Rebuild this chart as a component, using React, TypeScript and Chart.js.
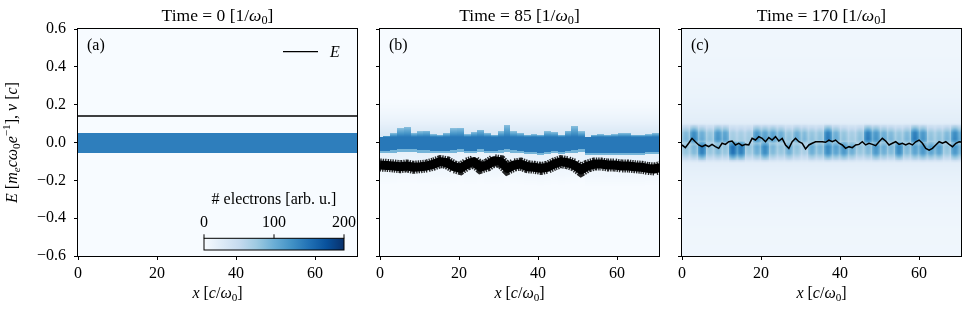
import React, { useEffect, useRef } from 'react';
import { Chart, registerables } from 'chart.js';
Chart.register(...registerables);

// ---------------- data ----------------
const X_MAX = 70.6;
const Y_MIN = -0.6;
const Y_MAX = 0.6;
const X_TICKS = [0, 20, 40, 60];
const Y_TICKS = [-0.6, -0.4, -0.2, 0, 0.2, 0.4, 0.6];
const TIMES = [0, 85, 170];
const PANEL_LABELS = ['(a)', '(b)', '(c)'];
const CBAR_TICKS = [0, 100, 200];
const CBAR_MAX = 200;

// panel (a): E field and electron band
const A_E_X = [0, 70.6];
const A_E_V = [0.14, 0.14];
const A_BAND = [-0.053, 0.05];
const A_LEVEL = 140;

// panel (b): sampled every B_STEP in x
const B_STEP = 1.696;
const B_E = [-0.119, -0.121, -0.124, -0.128, -0.124, -0.131, -0.128, -0.124, -0.114, -0.101, -0.107, -0.128, -0.137, -0.114, -0.101, -0.131, -0.119, -0.096, -0.101, -0.137, -0.119, -0.114,
  -0.128, -0.131, -0.137, -0.131, -0.114, -0.101, -0.107, -0.119, -0.145, -0.124, -0.114, -0.114, -0.119, -0.119, -0.124, -0.124, -0.128, -0.131, -0.137, -0.140, -0.131];
const B_TOP = [0.032, 0.037, 0.050, 0.073, 0.080, 0.050, 0.058, 0.062, 0.044, 0.041, 0.050, 0.073, 0.076, 0.044, 0.055, 0.067, 0.050, 0.041, 0.058, 0.090, 0.058, 0.050,
  0.041, 0.044, 0.041, 0.058, 0.055, 0.041, 0.062, 0.085, 0.058, 0.032, 0.041, 0.044, 0.041, 0.044, 0.050, 0.050, 0.041, 0.041, 0.044, 0.050, 0.044];
const B_BOT = [-0.057, -0.057, -0.054, -0.048, -0.048, -0.048, -0.054, -0.054, -0.057, -0.057, -0.057, -0.054, -0.048, -0.057, -0.057, -0.048, -0.057, -0.057, -0.054, -0.048, -0.054, -0.057,
  -0.061, -0.061, -0.066, -0.061, -0.057, -0.061, -0.057, -0.054, -0.048, -0.066, -0.066, -0.066, -0.066, -0.066, -0.066, -0.066, -0.066, -0.066, -0.061, -0.061, -0.061];
const B_CORE = 145;
const B_FLAME_DROP = 60;
const B_EDGE = 95;
const B_HALO_UP = 34;
const B_HALO_DN = 16;

// panel (c)
const C_STEP = 0.845;
const C_E = [-0.013, -0.027, -0.004, 0.022, 0.004, -0.013, -0.022, -0.013, -0.022, -0.010, -0.022, -0.031, -0.004, -0.010, 0.004, 0.008, -0.013, -0.004, -0.017, -0.010, -0.013, 0.022, 0.013, 0.031, 0.022, 0.004, 0.026, 0.013, 0.031, 0.008, 0.022, -0.013, -0.031, 0.004, 0.022, 0.004, -0.004, -0.034, -0.013, -0.004, 0.004, 0.004,
  0.004, 0.001, 0.013, 0.004, 0.013, -0.004, -0.013, -0.031, -0.022, -0.027, -0.013, -0.010, 0.004, -0.013, -0.004, -0.010, -0.017, 0.004, 0.022, 0.008, -0.013, -0.004, 0.004, -0.010, -0.004, -0.013, -0.004, -0.013, 0.004, 0.013, -0.004, -0.031, -0.040, -0.031, -0.013, 0.004, -0.004, 0.004, -0.010, -0.022, -0.004, 0.004, 0.001];
const C_COL = 2;
const C_UP = [60, 100, 70, 50, 90, 80, 40, 40, 40, 90, 80, 80, 70, 50, 70, 60, 50, 50, 110, 70, 50, 40, 50, 110, 90, 70, 60, 50, 60, 110, 90, 50, 50, 60, 100, 90];
const C_DN = [50, 60, 110, 50, 60, 50, 120, 110, 50, 70, 100, 60, 50, 70, 50, 40, 70, 60, 100, 80, 90, 70, 50, 60, 90, 70, 60, 100, 60, 80, 90, 80, 80, 50, 90, 80];

// ---------------- helpers ----------------
const FAMILY = "'Liberation Serif', 'DejaVu Serif', serif";
const FS = 16;
const BLUES = [
  [247, 251, 255], [222, 235, 247], [198, 219, 239], [158, 202, 225], [107, 174, 214],
  [66, 146, 198], [33, 113, 181], [8, 81, 156], [8, 48, 107],
];
function blues(t: number): string {
  const tt = Math.max(0, Math.min(1, t)) * (BLUES.length - 1);
  const i = Math.min(BLUES.length - 2, Math.floor(tt));
  const f = tt - i;
  const a = BLUES[i], b = BLUES[i + 1];
  return `rgb(${Math.round(a[0] + (b[0] - a[0]) * f)},${Math.round(a[1] + (b[1] - a[1]) * f)},${Math.round(a[2] + (b[2] - a[2]) * f)})`;
}
const clampI = (i: number, n: number) => Math.max(0, Math.min(n - 1, i));

function levelA(_x: number, v: number) {
  return v >= A_BAND[0] && v <= A_BAND[1] ? A_LEVEL : 0;
}
function levelB(x: number, v: number) {
  const i = clampI(Math.round(x / B_STEP), B_TOP.length);
  const top = B_TOP[i], bot = B_BOT[i];
  if (v >= bot && v <= top) {
    if (v > 0.03) return B_CORE - B_FLAME_DROP * (v - 0.03) / Math.max(0.001, top - 0.03);
    if (v < bot + 0.012) return B_EDGE;
    return B_CORE;
  }
  if (v > top) {
    const d = (v - 0.03) / 0.23;
    return d < 1 ? B_HALO_UP * (1 - d) * (1 - d) : 0;
  }
  const d = (bot - v) / 0.17;
  return d < 1 ? B_HALO_DN * (1 - d) : 0;
}
function levelC(x: number, v: number) {
  const j = clampI(Math.floor(x / C_COL), C_UP.length);
  const frac = x / C_COL - Math.floor(x / C_COL);
  const taper = 0.7 + 0.3 * Math.sin(Math.PI * frac);
  const su = Math.min(1, 1.3 * Math.max(0, 1 - Math.abs(v - 0.035) / 0.07));
  const sd = Math.min(1, 1.3 * Math.max(0, 1 - Math.abs(v + 0.04) / 0.07));
  const blob = Math.max(C_UP[j] * su, C_DN[j] * sd) * taper;
  const halo = 30 * Math.exp(-Math.abs(v) / 0.15) + 7;
  return blob + halo;
}
const LEVELS = [levelA, levelB, levelC];

type Seg = { t: string; it?: boolean; sub?: boolean; sup?: boolean };
function segFont(s: Seg, size: number) {
  const sz = s.sub || s.sup ? size * 0.7 : size;
  return `${s.it ? 'italic ' : ''}${sz}px ${FAMILY}`;
}
function richWidth(ctx: CanvasRenderingContext2D, segs: Seg[], size: number) {
  let w = 0;
  for (const s of segs) { ctx.font = segFont(s, size); w += ctx.measureText(s.t).width; }
  return w;
}
function drawRich(ctx: CanvasRenderingContext2D, segs: Seg[], x: number, y: number, size: number, align: 'left' | 'center') {
  let cx = align === 'center' ? x - richWidth(ctx, segs, size) / 2 : x;
  ctx.textAlign = 'left';
  ctx.textBaseline = 'alphabetic';
  ctx.fillStyle = '#000';
  for (const s of segs) {
    ctx.font = segFont(s, size);
    const dy = s.sub ? size * 0.2 : s.sup ? -size * 0.38 : 0;
    ctx.fillText(s.t, cx, y + dy);
    cx += ctx.measureText(s.t).width;
  }
}
const titleSegs = (t: number): Seg[] => [{ t: `Time = ${t} [1/` }, { t: 'ω', it: true }, { t: '0', sub: true }, { t: ']' }];
const X_LABEL: Seg[] = [{ t: 'x', it: true }, { t: ' [' }, { t: 'c', it: true }, { t: '/' }, { t: 'ω', it: true }, { t: '0', sub: true }, { t: ']' }];
const Y_LABEL: Seg[] = [{ t: 'E', it: true }, { t: ' [' }, { t: 'm', it: true }, { t: 'e', it: true, sub: true }, { t: 'cω', it: true }, { t: '0', sub: true }, { t: 'e', it: true }, { t: '−1', sup: true }, { t: '], ' }, { t: 'v', it: true }, { t: ' [' }, { t: 'c', it: true }, { t: ']' }];

function fmtY(v: number) {
  const r = Math.abs(v) < 1e-9 ? 0 : v;
  return (r < 0 ? '−' : '') + Math.abs(r).toFixed(1);
}

// ---------------- panels ----------------
const PANELS = [
  { left: 0, width: 368, yWidth: 78, padRight: 11 },
  { left: 368, width: 302, yWidth: 12, padRight: 11 },
  { left: 670, width: 299, yWidth: 12, padRight: 8 },
];

function datasetsFor(idx: number) {
  if (idx === 0) {
    return [{ data: A_E_X.map((x, i) => ({ x, y: A_E_V[i] })), borderColor: '#000', borderWidth: 1.3, pointRadius: 0, tension: 0, clip: 0 }];
  }
  if (idx === 1) {
    const pts = B_E.map((v, i) => ({ x: i * B_STEP, y: v }));
    return [
      { data: pts, borderColor: '#000', borderWidth: 9, pointRadius: 0, tension: 0, borderJoinStyle: 'round', clip: 0 },
      { data: pts, borderColor: 'rgba(0,0,0,0.85)', borderWidth: 13, borderDash: [1.4, 1], pointRadius: 0, tension: 0, clip: 0 },
    ];
  }
  const pts = C_E.map((v, i) => ({ x: i * C_STEP, y: v }));
  return [{ data: pts, borderColor: '#000', borderWidth: 1.5, pointRadius: 0, tension: 0, clip: 0 }];
}

function buildConfig(idx: number): any {
  const P = PANELS[idx];
  const levelFn = LEVELS[idx];
  const heatPlugin = {
    id: 'heat' + idx,
    beforeDatasetsDraw(chart: any) {
      const { ctx, chartArea: a, scales } = chart;
      const xs = scales.x, ys = scales.y;
      ctx.save();
      ctx.beginPath();
      ctx.rect(a.left, a.top, a.right - a.left, a.bottom - a.top);
      ctx.clip();
      ctx.fillStyle = blues(0);
      ctx.fillRect(a.left, a.top, a.right - a.left, a.bottom - a.top);
      const DX = 0.25, DV = 0.005;
      for (let xv = 0; xv < X_MAX; xv += DX) {
        const px0 = Math.round(xs.getPixelForValue(xv));
        const px1 = Math.round(xs.getPixelForValue(xv + DX));
        for (let vv = Y_MIN; vv < Y_MAX; vv += DV) {
          const lev = levelFn(xv + DX / 2, vv + DV / 2);
          if (lev < 0.5) continue;
          const py0 = Math.round(ys.getPixelForValue(vv + DV));
          const py1 = Math.round(ys.getPixelForValue(vv));
          ctx.fillStyle = blues(lev / CBAR_MAX);
          ctx.fillRect(px0, py0, px1 - px0, py1 - py0);
        }
      }
      ctx.restore();
    },
  };
  const annotPlugin = {
    id: 'annot' + idx,
    afterDraw(chart: any) {
      const { ctx, chartArea: a } = chart;
      ctx.save();
      // frame
      ctx.strokeStyle = '#000';
      ctx.lineWidth = 1;
      ctx.strokeRect(a.left - 0.5, a.top - 0.5, a.right - a.left + 1, a.bottom - a.top + 1);
      const cx = (a.left + a.right) / 2;
      drawRich(ctx, titleSegs(TIMES[idx]), cx, 20.5, 17.5, 'center');
      drawRich(ctx, X_LABEL, cx, 297.5, FS, 'center');
      ctx.font = `${FS}px ${FAMILY}`;
      ctx.textAlign = 'left';
      ctx.textBaseline = 'alphabetic';
      ctx.fillStyle = '#000';
      ctx.fillText(PANEL_LABELS[idx], a.left + 9, 49.5);
      if (idx === 0) {
        // y label
        ctx.save();
        ctx.translate(16.5, (a.top + a.bottom) / 2);
        ctx.rotate(-Math.PI / 2);
        drawRich(ctx, Y_LABEL, 0, 0, FS, 'center');
        ctx.restore();
        // legend
        ctx.strokeStyle = '#000';
        ctx.lineWidth = 1.3;
        ctx.beginPath();
        ctx.moveTo(a.left + 205, a.top + 22.7);
        ctx.lineTo(a.left + 240, a.top + 22.7);
        ctx.stroke();
        drawRich(ctx, [{ t: 'E', it: true }], a.left + 252, a.top + 27.5, FS, 'left');
        // colorbar
        const bx0 = a.left + 126, bx1 = a.left + 266, by0 = a.top + 209.3, by1 = a.top + 221;
        const g = ctx.createLinearGradient(bx0, 0, bx1, 0);
        BLUES.forEach((c, i) => g.addColorStop(i / (BLUES.length - 1), `rgb(${c[0]},${c[1]},${c[2]})`));
        ctx.fillStyle = g;
        ctx.fillRect(bx0, by0, bx1 - bx0, by1 - by0);
        ctx.strokeStyle = '#000';
        ctx.lineWidth = 1;
        ctx.strokeRect(bx0, by0, bx1 - bx0, by1 - by0);
        ctx.fillStyle = '#000';
        ctx.font = `${FS}px ${FAMILY}`;
        ctx.textAlign = 'center';
        CBAR_TICKS.forEach((t) => {
          const tx = bx0 + (bx1 - bx0) * (t / CBAR_MAX);
          ctx.beginPath();
          ctx.moveTo(tx, by0);
          ctx.lineTo(tx, by0 - 4);
          ctx.stroke();
          ctx.fillText(String(t), tx, a.top + 197.5);
        });
        drawRich(ctx, [{ t: '# electrons [arb. u.]' }], (bx0 + bx1) / 2, a.top + 174.5, FS, 'center');
      }
      ctx.restore();
    },
  };
  const tickFont = { family: FAMILY, size: FS };
  return {
    type: 'line',
    data: { datasets: datasetsFor(idx) },
    options: {
      animation: false,
      responsive: false,
      events: [],
      layout: { padding: { left: 0, right: P.padRight, top: 29, bottom: 0 } },
      plugins: { legend: { display: false }, tooltip: { enabled: false }, title: { display: false } },
      scales: {
        x: {
          type: 'linear',
          min: 0,
          max: X_MAX,
          afterFit: (s: any) => { s.height = 59; },
          afterBuildTicks: (s: any) => { s.ticks = X_TICKS.map((value) => ({ value })); },
          ticks: { font: tickFont, color: '#000', padding: 4, maxRotation: 0, autoSkip: false, callback: (v: any) => String(v) },
          grid: { display: true, drawOnChartArea: false, drawTicks: true, tickLength: 4, color: '#000', lineWidth: 1 },
          border: { display: false },
        },
        y: {
          type: 'linear',
          min: Y_MIN,
          max: Y_MAX,
          afterFit: (s: any) => { s.width = P.yWidth; },
          afterBuildTicks: (s: any) => { s.ticks = Y_TICKS.map((value) => ({ value })); },
          ticks: { display: idx === 0, font: tickFont, color: '#000', padding: 8, autoSkip: false, callback: (v: any) => fmtY(Number(v)) },
          grid: { display: true, drawOnChartArea: false, drawTicks: true, tickLength: 4, color: '#000', lineWidth: 1 },
          border: { display: false },
        },
      },
    },
    plugins: [heatPlugin, annotPlugin],
  };
}

function Panel({ idx }: { idx: number }) {
  const ref = useRef<HTMLCanvasElement>(null);
  const P = PANELS[idx];
  useEffect(() => {
    const chart = new Chart(ref.current as HTMLCanvasElement, buildConfig(idx));
    return () => chart.destroy();
  }, [idx]);
  return (
    <canvas
      ref={ref}
      width={P.width}
      height={315}
      style={{ position: 'absolute', left: P.left, top: 0, width: P.width, height: 315 }}
    />
  );
}

export default function App() {
  return (
    <div style={{ position: 'fixed', left: 0, top: 0, width: 969, height: 315, background: '#fff', overflow: 'hidden' }}>
      <Panel idx={0} />
      <Panel idx={1} />
      <Panel idx={2} />
    </div>
  );
}
